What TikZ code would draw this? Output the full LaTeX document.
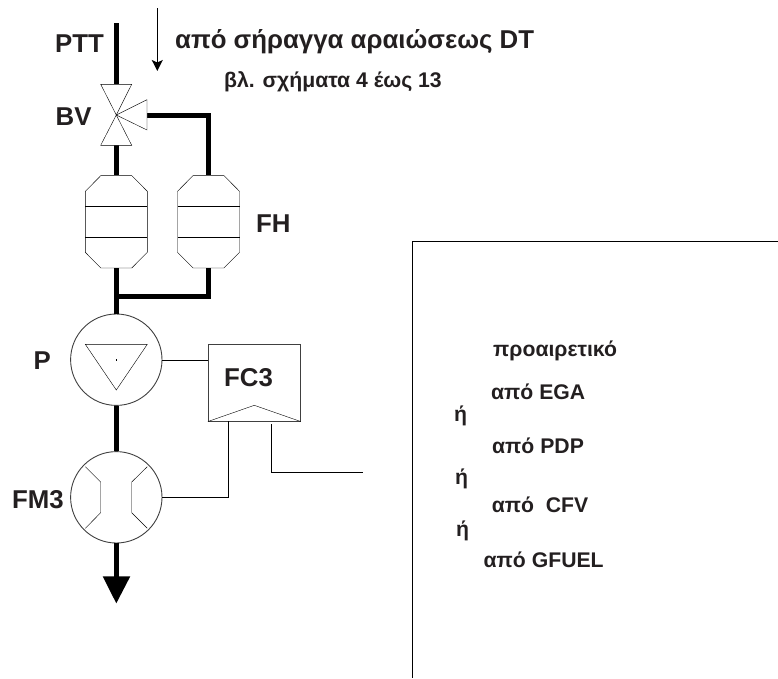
\documentclass[tikz,border=0pt]{standalone}
\usepackage{fontspec}
\setmainfont{Liberation Sans}
\usetikzlibrary{arrows.meta}
\definecolor{ink}{HTML}{231F20}
\definecolor{thin}{HTML}{404040}
\tikzset{
  pipe/.style={line width=5pt,black},
  thinline/.style={line width=1pt,thin},
  sym/.style={line width=0.9pt,thin},
  meter/.style={circle,draw=thin,line width=0.9pt,fill=white,minimum size=91.4pt,inner sep=0pt},
  filterbox/.style={rectangle,minimum width=62pt,minimum height=92.3pt,inner sep=0pt},
  big/.style={anchor=base west,inner sep=0pt,text=ink,font=\fontsize{25.8}{28}\selectfont\bfseries},
  mid/.style={anchor=base west,inner sep=0pt,text=ink,font=\fontsize{21.2}{24}\selectfont\bfseries},
}
\begin{document}
\begin{tikzpicture}[x=1pt,y=-1pt]
\useasboundingbox (0,0) rectangle (778,678);
% named points
\coordinate (pttin) at (116.3,23);
\coordinate (bvc) at (116.3,115);
\coordinate (bvt) at (116.3,84.3);
\coordinate (bvb) at (116.3,145.3);
\coordinate (bvr) at (147,115);
\coordinate (dtin) at (157.3,8);
\coordinate (dtout) at (157.3,71);
\coordinate (tee) at (116.3,296);
\coordinate (outl) at (116.3,578);
\node[filterbox] (f1) at (116.3,221.8) {};
\node[filterbox] (f2) at (208.5,221.8) {};
\node[meter] (pump) at (116.3,359.7) {};
\node[meter] (fm) at (116.3,497.3) {};
% pipes
\draw[pipe] (pttin) -- (bvt);
\draw[pipe] (bvb) -- (f1.north);
\draw[pipe,line join=miter] (bvr) -| (f2.north);
\draw[pipe] (f1.south) -- (pump.north);
\draw[pipe,line join=miter] (tee) -| (f2.south);
\draw[pipe] (pump.south) -- (fm.north);
\draw[pipe] (fm.south) -- (outl);
\fill[black] (102.7,576.3) -- (130.3,576.3) -- (116.3,603.3) -- cycle;
% valve
\draw[sym,fill=white,line join=miter] (bvc) -- (100.7,84.3) -- (131.7,84.3) -- cycle;
\draw[sym,fill=white,line join=miter] (bvc) -- (100.7,145.3) -- (131.7,145.3) -- cycle;
\draw[sym,fill=white,line join=miter] (bvc) -- (147,99.7) -- (147,130) -- cycle;
% filters
\foreach \f in {f1,f2}{
  \begin{scope}[shift={(\f.center)}]
  \draw[sym,fill=white] (-15.5,-46.15) -- (15.5,-46.15) -- (31,-30.5) -- (31,30.5) -- (15.5,46.15) -- (-15.5,46.15) -- (-31,30.5) -- (-31,-30.5) -- cycle;
  \draw[sym] (-31,-15.3) -- (31,-15.3);
  \draw[sym] (-31,15.5) -- (31,15.5);
  \end{scope}
}
% pump symbol
\draw[sym,line join=miter] (85.3,344.3) -- (147.3,344.3) -- (116.3,390) -- cycle;
\fill[thin] (116,359.3) rectangle (116.8,360.8);
% flow meter symbol
\draw[sym] (85.3,466.7) -- (100.7,482) -- (100.7,512.7) -- (85.3,528.3);
\draw[sym] (147.3,466.7) -- (131.7,482) -- (131.7,512.7) -- (147.3,528.3);
% FC3
\node[draw=thin,line width=1pt,minimum width=92pt,minimum height=76.7pt,inner sep=0pt] (fc) at (254.3,382.7) {};
\draw[sym] (fc.south west) -- (254.3,405.3) -- (fc.south east);
\coordinate (fcin) at (227.7,421);
\coordinate (fcout) at (270.7,424.3);
\coordinate (sigend) at (362.7,472.3);
\draw[thinline] (pump.east) -- (pump.east -| fc.west);
\draw[thinline] (fm.east) -| (fcin);
\draw[thinline] (fcout) |- (sigend);
% right frame
\coordinate (ra) at (778,240.7);
\coordinate (rb) at (411.7,240.7);
\coordinate (rc) at (411.7,678);
\draw[thinline] (ra) -- (rb) -- (rc);
% flow arrow
\draw[line width=1.6pt,black,-{Stealth[length=11pt,width=11pt,inset=2.5pt]}] (dtin) -- (dtout);
% labels
\node[big] (lptt) at (55,52) {PTT};
\node[big] (lbv) at (55.5,125.7) {BV};
\node[big] (lfh) at (256,232.7) {FH};
\node[big] (lp) at (33.5,369) {P};
\node[big] (lfc) at (224,386) {FC3};
\node[big] (lfm) at (12,508) {FM3};
\node[big] (ldt) at (175,48.3) {από σήραγγα αραιώσεως DT};
\node[mid] (lfig) at (224,87.5) {βλ. σχήματα 4 έως 13};
\node[mid] (l1) at (493,356.7) {προαιρετικό};
\node[mid] (l2) at (491,399.3) {από EGA};
\node[mid] (l3) at (454,421) {ή};
\node[mid] (l4) at (492,453) {από PDP};
\node[mid] (l5) at (455,484) {ή};
\node[mid] (l6) at (491.7,512.7) {από \ CFV};
\node[mid] (l7) at (456,536) {ή};
\node[mid] (l8) at (483.5,567.7) {από GFUEL};
\end{tikzpicture}
\end{document}
